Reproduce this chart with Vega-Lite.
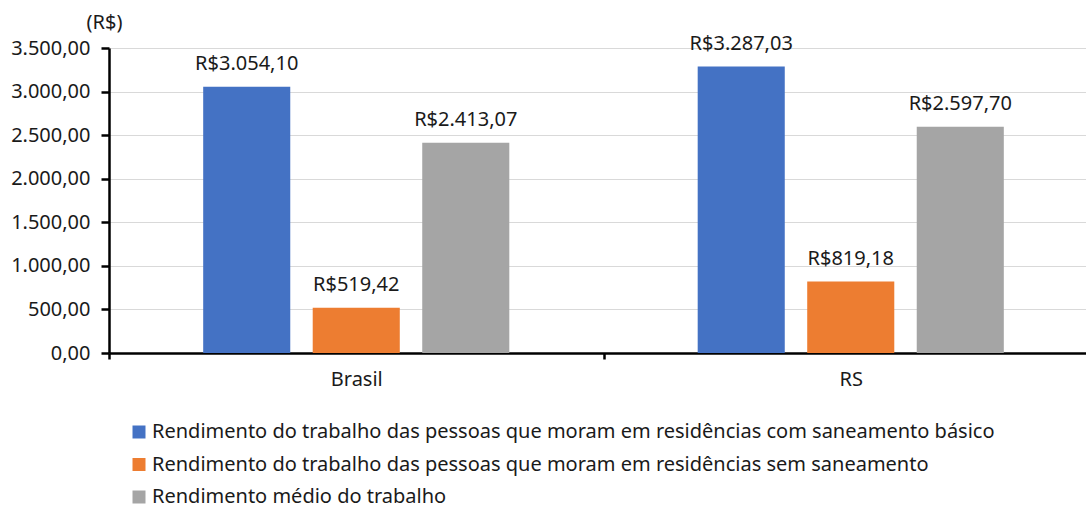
{
  "$schema": "https://vega.github.io/schema/vega-lite/v6.json",
  "width": 989,
  "height": 305,
  "autosize": {"type": "none"},
  "padding": {"left": 109, "top": 48, "right": 0, "bottom": 156},
  "background": "white",
  "config": {
    "locale": {"number": {"decimal": ",", "thousands": ".", "grouping": [3], "currency": ["R$", ""]}},
    "font": "Noto Sans",
    "view": {"stroke": null}
  },
  "data": {
    "values": [
      {"local": "Brasil", "serie": "Rendimento do trabalho das pessoas que moram em residências com saneamento básico", "valor": 3054.10},
      {"local": "Brasil", "serie": "Rendimento do trabalho das pessoas que moram em residências sem saneamento", "valor": 519.42},
      {"local": "Brasil", "serie": "Rendimento médio do trabalho", "valor": 2413.07},
      {"local": "RS", "serie": "Rendimento do trabalho das pessoas que moram em residências com saneamento básico", "valor": 3287.03},
      {"local": "RS", "serie": "Rendimento do trabalho das pessoas que moram em residências sem saneamento", "valor": 819.18},
      {"local": "RS", "serie": "Rendimento médio do trabalho", "valor": 2597.70}
    ]
  },
  "encoding": {
    "x": {
      "field": "local", "type": "nominal",
      "scale": {"paddingInner": 0, "paddingOuter": 0},
      "axis": {
        "title": null, "labelAngle": 0, "domainColor": "black", "domainWidth": 2.5,
        "tickColor": "black", "tickWidth": 2.5, "tickSize": 6, "tickBand": "extent",
        "labelFontSize": 20, "labelColor": "#1a1a1a", "labelPadding": 10
      }
    },
    "xOffset": {
      "field": "serie", "type": "nominal",
      "scale": {
        "paddingInner": 0.205, "paddingOuter": 0.86,
        "domain": [
          "Rendimento do trabalho das pessoas que moram em residências com saneamento básico",
          "Rendimento do trabalho das pessoas que moram em residências sem saneamento",
          "Rendimento médio do trabalho"
        ]
      }
    },
    "y": {
      "field": "valor", "type": "quantitative",
      "scale": {"domain": [0, 3500], "nice": false},
      "axis": {
        "title": "(R$)", "titleAngle": 0, "titleX": -5, "titleY": -26, "titleAlign": "center",
        "titleBaseline": "middle", "titleFontSize": 20, "titleFontWeight": "normal", "titleColor": "#1a1a1a",
        "values": [0, 500, 1000, 1500, 2000, 2500, 3000, 3500], "format": ",.2f",
        "domainColor": "black", "domainWidth": 2.5, "tickColor": "black", "tickWidth": 2.5, "tickSize": 8,
        "gridColor": "#d9d9d9", "gridWidth": 1,
        "labelFontSize": 20, "labelColor": "#1a1a1a", "labelPadding": 11
      }
    }
  },
  "layer": [
    {
      "mark": {"type": "bar"},
      "encoding": {
        "color": {
          "field": "serie", "type": "nominal",
          "scale": {
            "domain": [
              "Rendimento do trabalho das pessoas que moram em residências com saneamento básico",
              "Rendimento do trabalho das pessoas que moram em residências sem saneamento",
              "Rendimento médio do trabalho"
            ],
            "range": ["#4472C4", "#ED7D31", "#A5A5A5"]
          },
          "legend": {
            "title": null, "orient": "none", "legendX": 20, "legendY": 374,
            "direction": "vertical", "symbolType": "square", "symbolSize": 169, "symbolStrokeWidth": 0,
            "labelFontSize": 20, "labelColor": "#1a1a1a", "labelOffset": 3, "rowPadding": 12.5, "labelLimit": 1000
          }
        }
      }
    },
    {
      "mark": {"type": "text", "baseline": "bottom", "dy": -13, "fontSize": 20, "color": "#1a1a1a"},
      "encoding": {
        "text": {"field": "valor", "type": "quantitative", "format": "$,.2f"}
      }
    }
  ]
}
